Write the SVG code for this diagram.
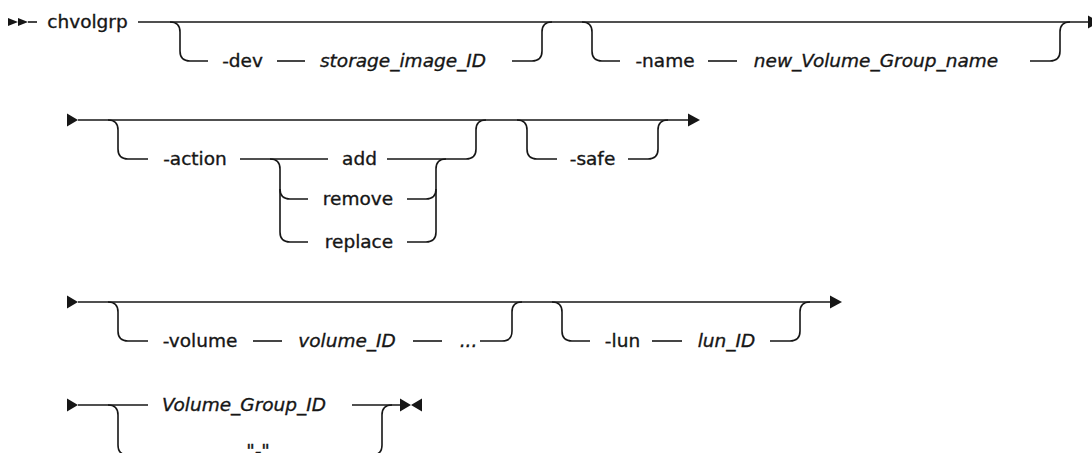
<svg xmlns="http://www.w3.org/2000/svg" width="1092" height="453" viewBox="0 0 1092 453">
<style>
  .ln { fill: none; stroke: #161616; stroke-width: 1.6; }
  .ah { fill: #161616; stroke: none; }
  text { font-family: "DejaVu Sans", "Liberation Sans", sans-serif; font-size: 18.5px; fill: #161616; stroke: #161616; stroke-width: 0.35; text-anchor: middle; }
  .v { font-style: italic; }
</style>
<rect width="1092" height="453" fill="#ffffff"/>
<g id="connectors">
  <!-- row 1 -->
  <polygon class="ah" points="8,18 18,22 8,26"/>
  <polygon class="ah" points="18,18 28,22 18,26"/>
  <path class="ln" d="M28,22 H37"/>
  <path class="ln" d="M138,22 H1088"/>
  <polygon class="ah" points="1088,15.5 1100,22 1088,28.5"/>
  <path class="ln" d="M170,22 Q180,22 180,32 V51 Q180,61 190,61 H208"/>
  <path class="ln" d="M277,61 H305"/>
  <path class="ln" d="M512,61 H532 Q542,61 542,51 V32 Q542,22 552,22"/>
  <path class="ln" d="M582,22 Q592,22 592,32 V51 Q592,61 602,61 H620"/>
  <path class="ln" d="M708,61 H737"/>
  <path class="ln" d="M1030,61 H1050 Q1060,61 1060,51 V32 Q1060,22 1070,22"/>
  <!-- row 2 -->
  <polygon class="ah" points="67,113.5 78,120 67,126.5"/>
  <path class="ln" d="M78,120 H688"/>
  <polygon class="ah" points="688,113.5 700,120 688,126.5"/>
  <path class="ln" d="M108,120 Q118,120 118,130 V149 Q118,159 128,159 H148"/>
  <path class="ln" d="M240,159 H328"/>
  <path class="ln" d="M270,159 Q280,159 280,169 V189 Q280,199 290,199 H308"/>
  <path class="ln" d="M280,189 V232 Q280,242 290,242 H308"/>
  <path class="ln" d="M387,159 H466 Q476,159 476,149 V130 Q476,120 486,120"/>
  <path class="ln" d="M407,199 H426 Q436,199 436,189 V169 Q436,159 446,159"/>
  <path class="ln" d="M407,242 H426 Q436,242 436,232 V189"/>
  <path class="ln" d="M517,120 Q527,120 527,130 V149 Q527,159 537,159 H557"/>
  <path class="ln" d="M628,159 H648 Q658,159 658,149 V130 Q658,120 668,120"/>
  <!-- row 3 -->
  <polygon class="ah" points="67,295.5 78,302 67,308.5"/>
  <path class="ln" d="M78,302 H830"/>
  <polygon class="ah" points="830,295.5 842,302 830,308.5"/>
  <path class="ln" d="M108,302 Q118,302 118,312 V331 Q118,341 128,341 H148"/>
  <path class="ln" d="M253,341 H282"/>
  <path class="ln" d="M413,341 H442"/>
  <path class="ln" d="M480,341 H502 Q512,341 512,331 V312 Q512,302 522,302"/>
  <path class="ln" d="M552,302 Q562,302 562,312 V331 Q562,341 572,341 H590"/>
  <path class="ln" d="M652,341 H682"/>
  <path class="ln" d="M770,341 H790 Q800,341 800,331 V312 Q800,302 810,302"/>
  <!-- row 4 -->
  <polygon class="ah" points="67,398.5 78,405 67,411.5"/>
  <path class="ln" d="M78,405 H148"/>
  <path class="ln" d="M108,405 Q118,405 118,415 V445 Q118,455 128,455 H228"/>
  <path class="ln" d="M352,405 H400"/>
  <path class="ln" d="M288,455 H372 Q382,455 382,445 V415 Q382,405 392,405"/>
  <polygon class="ah" points="400,398.5 411,405 400,411.5"/>
  <polygon class="ah" points="422,398.5 411,405 422,411.5"/>
</g>
<g id="n-chvolgrp"><text x="87.5" y="28">chvolgrp</text></g>
<g id="n-dev"><text x="242.5" y="67">-dev</text></g>
<g id="n-storage"><text class="v" x="403" y="67">storage_image_ID</text></g>
<g id="n-name"><text x="665" y="67">-name</text></g>
<g id="n-newname"><text class="v" x="876" y="67">new_Volume_Group_name</text></g>
<g id="n-action"><text x="195" y="165">-action</text></g>
<g id="n-add"><text x="359.5" y="165">add</text></g>
<g id="n-remove"><text x="358" y="205">remove</text></g>
<g id="n-replace"><text x="359" y="248">replace</text></g>
<g id="n-safe"><text x="592.5" y="165">-safe</text></g>
<g id="n-volume"><text x="200" y="347">-volume</text></g>
<g id="n-volumeid"><text class="v" x="347" y="347">volume_ID</text></g>
<g id="n-ellipsis"><text class="v" x="468.5" y="347">...</text></g>
<g id="n-lun"><text x="622.5" y="347">-lun</text></g>
<g id="n-lunid"><text class="v" x="726.5" y="347">lun_ID</text></g>
<g id="n-vgid"><text class="v" x="244" y="411">Volume_Group_ID</text></g>
<g id="n-dash"><text class="v" x="258" y="457">"-"</text></g>
</svg>
